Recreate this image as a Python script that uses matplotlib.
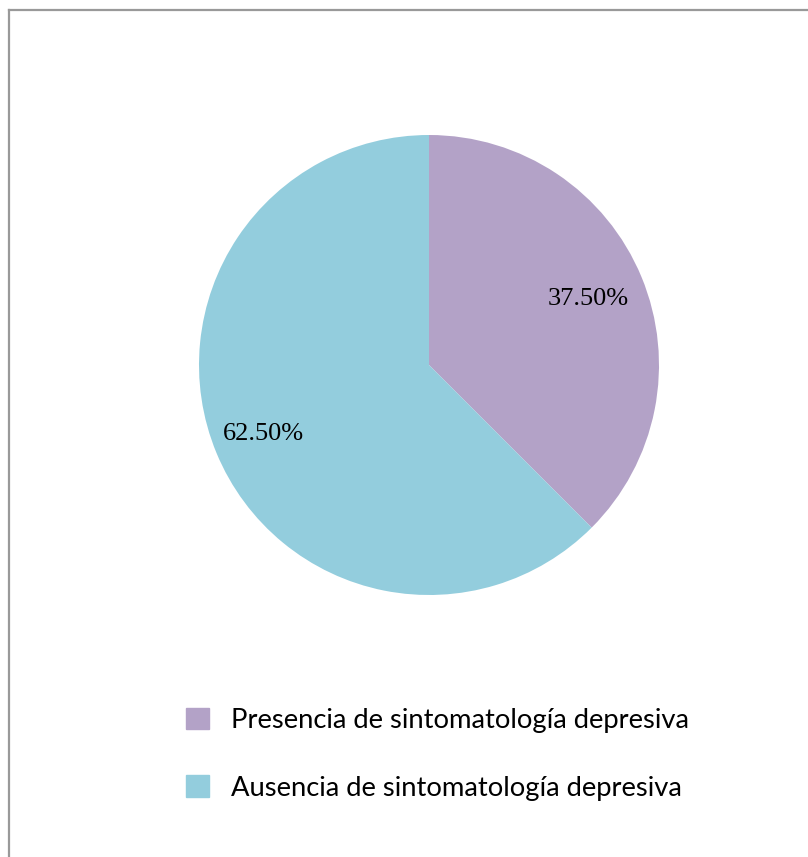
import matplotlib
matplotlib.use('Agg')
import matplotlib.pyplot as plt
import matplotlib.patches as mpatches
from matplotlib.lines import Line2D
import numpy as np

categories = ['Presencia de sintomatología depresiva', 'Ausencia de sintomatología depresiva']
values = [37.5, 62.5]
colors = ['#B3A2C7', '#93CDDD']

W, H = 808, 857
fig = plt.figure(figsize=(W / 100, H / 100), dpi=100)

# marco del grafico (solo izquierda y arriba visibles)
fig.add_artist(Line2D([9 / W, 9 / W], [0, 1 - 10 / H], color='#999999', lw=1.6))
fig.add_artist(Line2D([9 / W, 1], [1 - 10 / H, 1 - 10 / H], color='#999999', lw=1.6))

# pastel
cx, cy, r = 429, 365, 230
ax = fig.add_axes([(cx - r) / W, 1 - (cy + r) / H, 2 * r / W, 2 * r / H])
wedges, texts, autotexts = ax.pie(values, colors=colors, startangle=90, counterclock=False,
                                  autopct='%.2f%%', radius=1,
                                  wedgeprops=dict(linewidth=0),
                                  textprops=dict(family='Liberation Serif', fontsize=19, color='black'))
ax.set_xlim(-1, 1)
ax.set_ylim(-1, 1)
ax.set_aspect('equal')
ax.axis('off')

# posiciones de etiquetas como en Excel
dists = [0.75, 0.78]
for w, t, d in zip(wedges, autotexts, dists):
    ang = np.deg2rad((w.theta1 + w.theta2) / 2)
    t.set_position((d * np.cos(ang), d * np.sin(ang)))

# leyenda
handles = [mpatches.Patch(color=c) for c in colors]
fig.legend(handles, categories, loc='upper left', bbox_to_anchor=(161 / W, 1 - 683 / H),
           frameon=False, prop=dict(family='Lato', size=19.7), handlelength=0.85, handleheight=0.85,
           labelspacing=1.55, handletextpad=0.8)

fig.savefig('out.png', dpi=100)
